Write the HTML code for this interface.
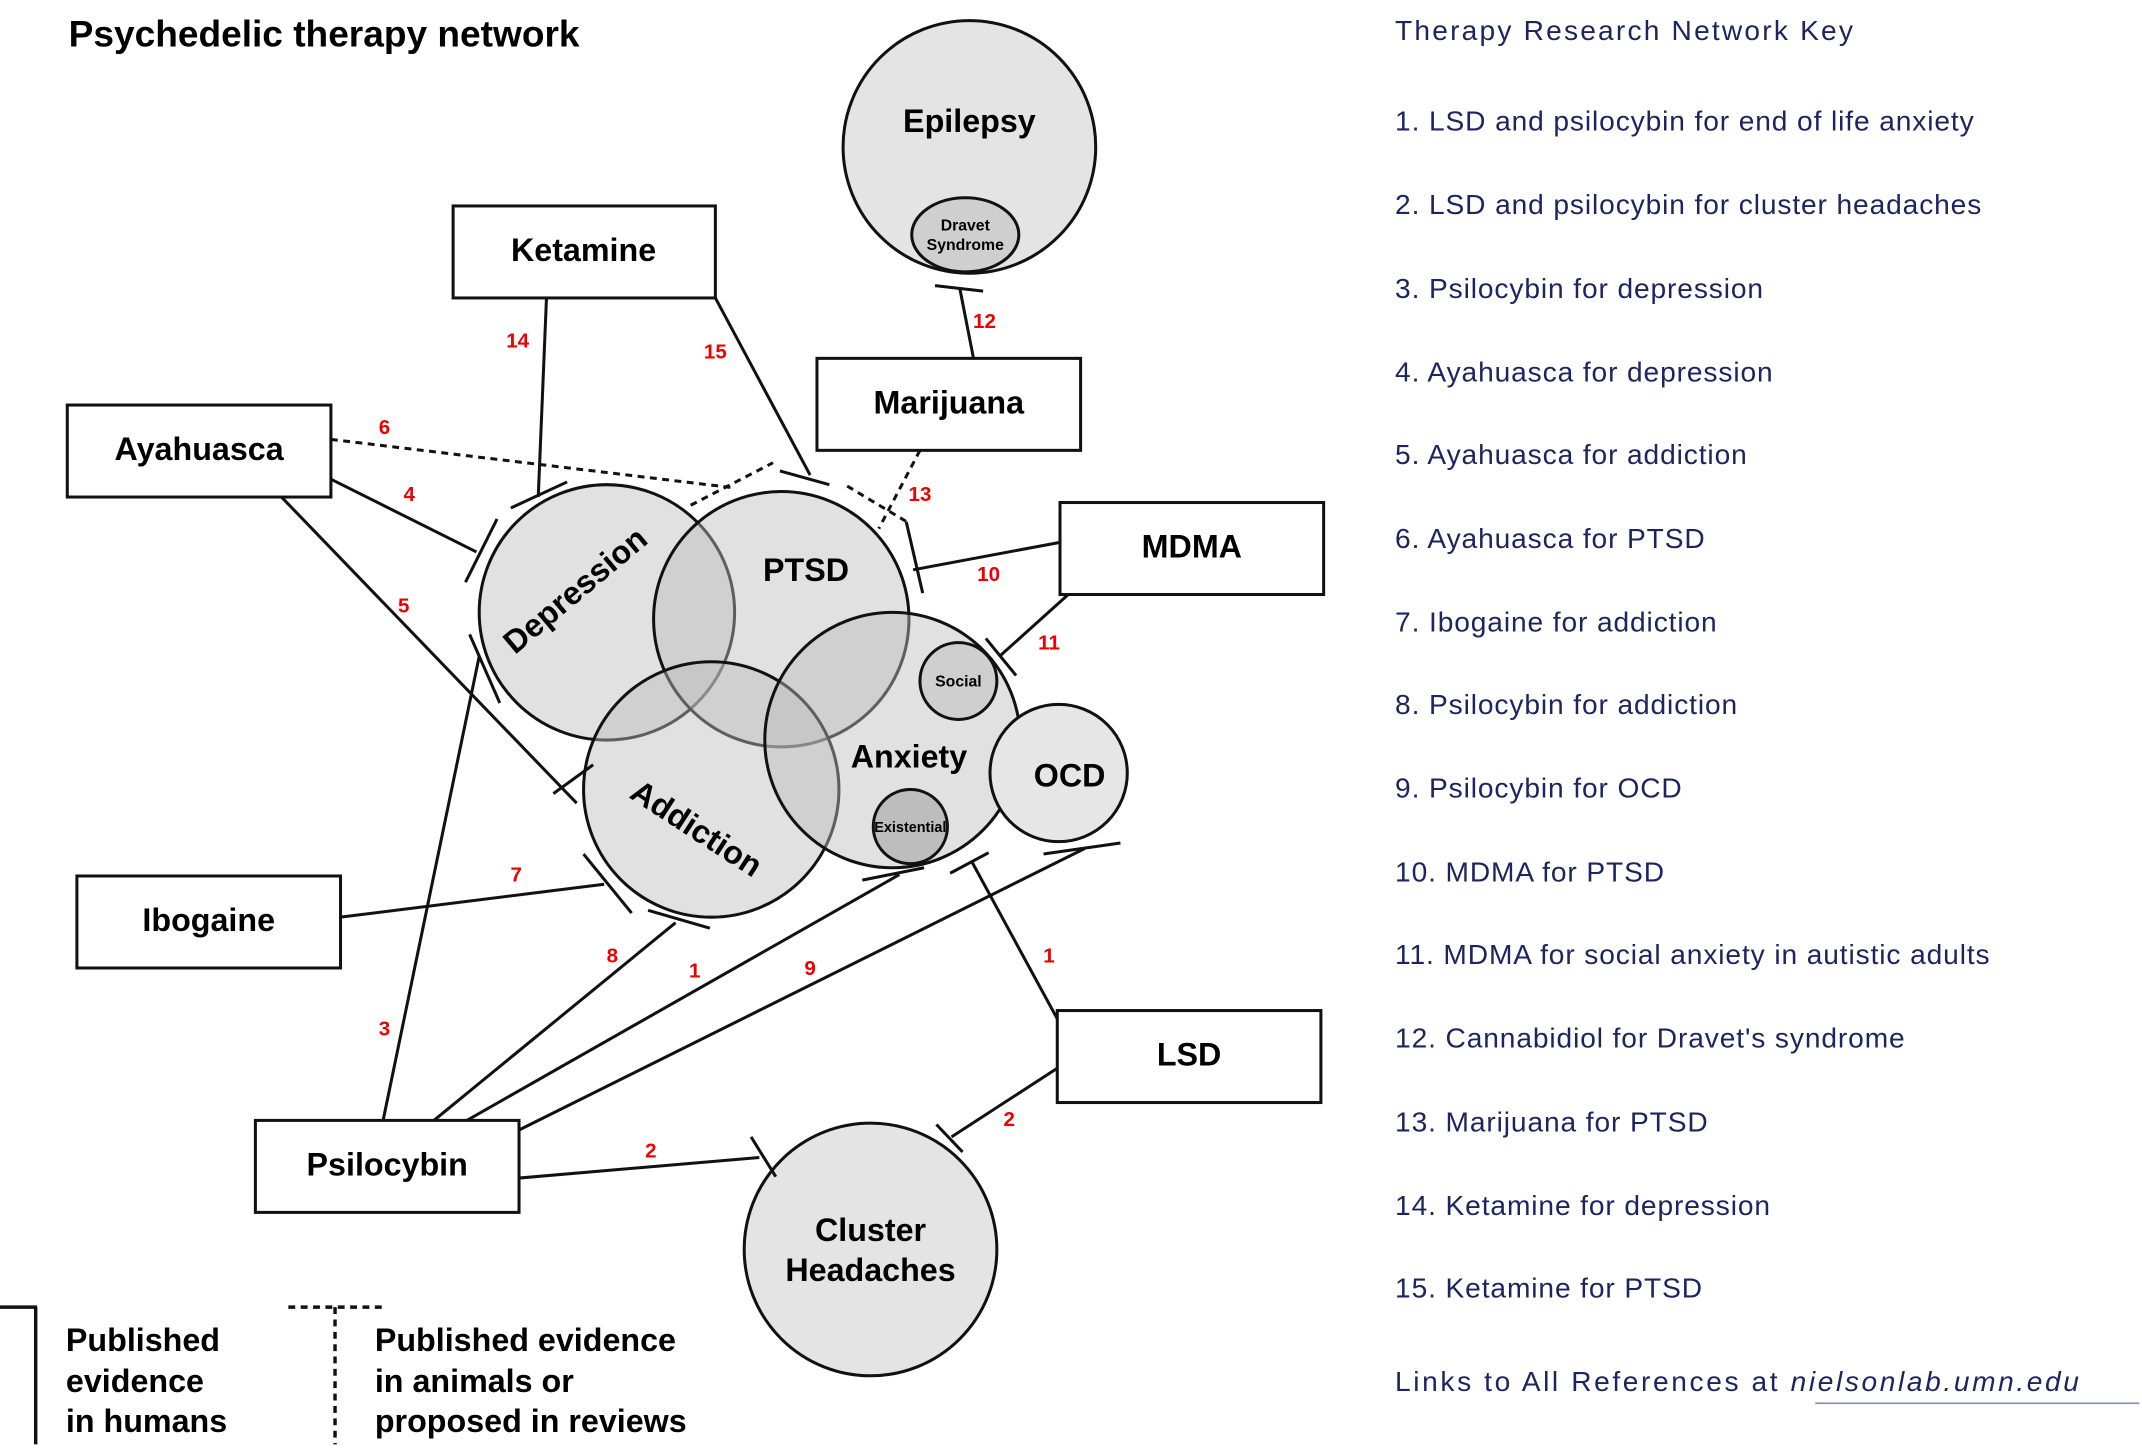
<!DOCTYPE html>
<html><head><meta charset="utf-8"><style>
html,body{margin:0;padding:0;background:#fff;}
svg{display:block;}
.b{font-family:"Liberation Sans",sans-serif;font-weight:bold;}
.r{font-family:"Liberation Sans",sans-serif;font-weight:bold;fill:#e00;font-size:15px;}
.k{font-family:"Liberation Sans",sans-serif;fill:#1c2560;font-size:20.5px;letter-spacing:0.65px;}
</style></head><body>
<svg width="2142" height="1448" viewBox="0 0 1560 1054.6" preserveAspectRatio="none" xmlns="http://www.w3.org/2000/svg">
<text x="50" y="34" class="b" font-size="27">Psychedelic therapy network</text>

<g stroke="#111" stroke-width="2.2">
<circle cx="706" cy="107" r="92" fill="#e4e4e4"/>
<ellipse cx="703" cy="171" rx="39" ry="27" fill="#cfcfcf"/>
<g fill="#bdbdbd" fill-opacity="0.45">
<circle cx="442" cy="446" r="93"/>
<circle cx="569" cy="451" r="93"/>
<circle cx="518" cy="575" r="93"/>
<circle cx="650" cy="539" r="93"/>
</g>
<circle cx="771" cy="563" r="50" fill="#e6e6e6"/>
<circle cx="698" cy="496" r="28" fill="#cfcfcf"/>
<circle cx="663" cy="602" r="27" fill="#bdbdbd"/>
<circle cx="634" cy="910" r="92" fill="#e4e4e4"/>
</g>

<g stroke="#111" stroke-width="2.2" fill="none">
<line x1="398" y1="217" x2="392" y2="362"/><line x1="372" y1="370" x2="413" y2="351"/>
<line x1="521" y1="217" x2="590" y2="346"/><line x1="568" y1="343" x2="604" y2="353"/>
<line x1="709" y1="261" x2="699" y2="210"/><line x1="681" y1="208" x2="716" y2="212"/>
<line x1="241" y1="349" x2="347" y2="402"/><line x1="339" y1="424" x2="362" y2="378"/>
<line x1="205" y1="362" x2="420" y2="585"/><line x1="403" y1="578" x2="432" y2="557"/>
<line x1="279" y1="816" x2="349" y2="478"/><line x1="342" y1="462" x2="364" y2="512"/>
<line x1="248" y1="668" x2="440" y2="644"/><line x1="425" y1="622" x2="460" y2="665"/>
<line x1="316" y1="816" x2="492" y2="672"/><line x1="472" y1="663" x2="517" y2="676"/>
<line x1="340" y1="816" x2="655" y2="637"/><line x1="628" y1="641" x2="673" y2="632"/>
<line x1="378" y1="823" x2="790" y2="618"/><line x1="760" y1="622" x2="816" y2="614"/>
<line x1="770" y1="742" x2="708" y2="628"/><line x1="692" y1="636" x2="720" y2="621"/>
<line x1="772" y1="395" x2="665" y2="415"/><line x1="660" y1="380" x2="672" y2="432"/>
<line x1="778" y1="433" x2="728" y2="478"/><line x1="718" y1="465" x2="740" y2="492"/>
<line x1="378" y1="858" x2="553" y2="843"/><line x1="547" y1="828" x2="565" y2="857"/>
<line x1="770" y1="778" x2="693" y2="828"/><line x1="682" y1="819" x2="701" y2="839"/>
<g stroke-dasharray="5,4">
<line x1="241" y1="320" x2="532" y2="355"/><line x1="503" y1="368" x2="563" y2="337"/>
<line x1="670" y1="328" x2="640" y2="385"/><line x1="617" y1="354" x2="662" y2="381"/>
</g>
</g>

<g fill="#fff" stroke="#111" stroke-width="2.2">
<rect x="330" y="150" width="191" height="67"/>
<rect x="49" y="295" width="192" height="67"/>
<rect x="595" y="261" width="192" height="67"/>
<rect x="772" y="366" width="192" height="67"/>
<rect x="56" y="638" width="192" height="67"/>
<rect x="770" y="736" width="192" height="67"/>
<rect x="186" y="816" width="192" height="67"/>
</g>
<g class="b" font-size="23.5" text-anchor="middle">
<text x="425" y="190">Ketamine</text>
<text x="145" y="335">Ayahuasca</text>
<text x="691" y="301">Marijuana</text>
<text x="868" y="406">MDMA</text>
<text x="152" y="678">Ibogaine</text>
<text x="866" y="776">LSD</text>
<text x="282" y="856">Psilocybin</text>
<text x="706" y="96">Epilepsy</text>
<text x="587" y="423">PTSD</text>
<text x="662" y="559">Anxiety</text>
<text x="779" y="573">OCD</text>
<text x="634" y="904">Cluster</text>
<text x="634" y="933">Headaches</text>
<text transform="translate(424,436) rotate(-40)">Depression</text>
<text transform="translate(503,610) rotate(33)">Addiction</text>
</g>
<g class="b" font-size="11.5" text-anchor="middle">
<text x="703" y="168">Dravet</text><text x="703" y="182">Syndrome</text>
<text x="698" y="500">Social</text>
<text x="663" y="606" font-size="10.5">Existential</text>
</g>
<g class="r" text-anchor="middle">
<text x="377" y="253">14</text><text x="521" y="261">15</text><text x="717" y="239">12</text>
<text x="280" y="316">6</text><text x="670" y="365">13</text><text x="298" y="365">4</text>
<text x="294" y="446">5</text><text x="720" y="423">10</text><text x="764" y="473">11</text>
<text x="376" y="642">7</text><text x="446" y="701">8</text><text x="506" y="712">1</text>
<text x="590" y="710">9</text><text x="764" y="701">1</text><text x="280" y="754">3</text>
<text x="474" y="843">2</text><text x="735" y="820">2</text>
</g>

<g stroke="#111" stroke-width="2.5">
<line x1="0" y1="952" x2="27" y2="952"/><line x1="26" y1="952" x2="26" y2="1052"/>
<g stroke-dasharray="5,4"><line x1="210" y1="952" x2="280" y2="952"/><line x1="244" y1="952" x2="244" y2="1052"/></g>
</g>
<g class="b" font-size="23.5">
<text x="48" y="984">Published</text><text x="48" y="1014">evidence</text><text x="48" y="1043">in humans</text>
<text x="273" y="984">Published evidence</text><text x="273" y="1014">in animals or</text><text x="273" y="1043">proposed in reviews</text>
</g>

<text x="1016" y="29" class="k" font-size="30" style="letter-spacing:1.6px">Therapy Research Network Key</text>
<g class="k">
<text x="1016" y="95">1. LSD and psilocybin for end of life anxiety</text>
<text x="1016" y="156">2. LSD and psilocybin for cluster headaches</text>
<text x="1016" y="217">3. Psilocybin for depression</text>
<text x="1016" y="278">4. Ayahuasca for depression</text>
<text x="1016" y="338">5. Ayahuasca for addiction</text>
<text x="1016" y="399">6. Ayahuasca for PTSD</text>
<text x="1016" y="460">7. Ibogaine for addiction</text>
<text x="1016" y="520">8. Psilocybin for addiction</text>
<text x="1016" y="581">9. Psilocybin for OCD</text>
<text x="1016" y="642">10. MDMA for PTSD</text>
<text x="1016" y="702">11. MDMA for social anxiety in autistic adults</text>
<text x="1016" y="763">12. Cannabidiol for Dravet's syndrome</text>
<text x="1016" y="824">13. Marijuana for PTSD</text>
<text x="1016" y="885">14. Ketamine for depression</text>
<text x="1016" y="945">15. Ketamine for PTSD</text>
</g>
<text x="1016" y="1013" class="k" font-size="26.5" style="letter-spacing:1.9px">Links to All References at <tspan font-style="italic">nielsonlab.umn.edu</tspan></text>
<line x1="1322" y1="1022" x2="1558" y2="1022" stroke="#8a93b8" stroke-width="1.2"/>
</svg>
</body></html>
